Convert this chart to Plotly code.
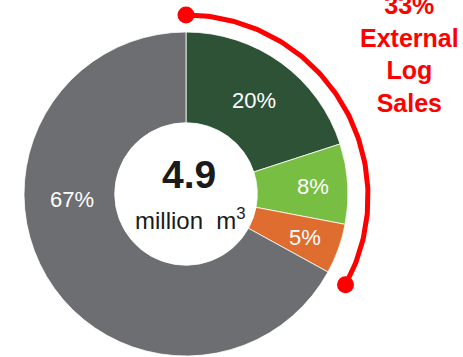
import plotly.graph_objects as go
import numpy as np

# ---- data ----
categories = ["External log sales A", "External log sales B", "External log sales C", "Other"]
shares = [20, 8, 5, 67]
colors = ["#2E5236", "#78BE43", "#DF6D2F", "#6D6E71"]
total_value = "4.9"
total_unit = "million&nbsp; m<sup>3</sup>"
highlight_share = 33
highlight_text = "External<br>Log<br>Sales"

W, H = 463, 357
FONT = "Liberation Sans, Arial, sans-serif"

# pie geometry (pixels)
cx, cy, r = 186, 194, 162

# label placement style: radius from centre (px) and optional angle override (deg)
label_radius = [116, 127, 127, 114]
label_angle_override = [None, None, None, 267]

fig = go.Figure()
fig.add_trace(go.Pie(
    labels=categories, values=shares, sort=False, direction="clockwise",
    rotation=0, hole=0.44,
    marker=dict(colors=colors, line=dict(color="white", width=0.8)),
    textinfo="none",
    hoverinfo="label+percent", showlegend=False,
    domain=dict(x=[(cx - r) / W, (cx + r) / W],
                y=[(H - cy - r) / H, (H - cy + r) / H]),
))

# highlight arc spanning the external share
acx, acy, R = 186, 197, 182
theta = np.radians(np.linspace(0, highlight_share / 100 * 360, 120))
ax_x = acx + R * np.sin(theta)
ax_y = acy - R * np.cos(theta)
fig.add_trace(go.Scatter(x=ax_x, y=ax_y, mode="lines",
                         line=dict(color="#FF0000", width=5),
                         hoverinfo="skip", showlegend=False))
fig.add_trace(go.Scatter(x=[ax_x[0], ax_x[-1]], y=[ax_y[0], ax_y[-1]], mode="markers",
                         marker=dict(color="#FF0000", size=17),
                         hoverinfo="skip", showlegend=False))

def px(x, y):
    return x / W, 1 - y / H

annots = []
# slice labels at slice mid-angles
tot = sum(shares)
cum = 0
for v, rad, ov in zip(shares, label_radius, label_angle_override):
    mid = (cum + v / 2) / tot * 360
    cum += v
    ang = np.radians(ov if ov is not None else mid)
    lx, ly = px(cx + rad * np.sin(ang), cy - rad * np.cos(ang))
    annots.append(dict(x=lx, y=ly, xref="paper", yref="paper", text=f"{v}%",
                       showarrow=False, font=dict(family=FONT, size=22, color="white"),
                       xanchor="center", yanchor="middle"))

x, y = px(189, 174)
annots.append(dict(x=x, y=y, xref="paper", yref="paper", text=f"<b>{total_value}</b>",
                   showarrow=False, font=dict(family=FONT, size=39, color="#1a1a1a"),
                   xanchor="center", yanchor="middle"))
x, y = px(190, 219)
annots.append(dict(x=x, y=y, xref="paper", yref="paper", text=total_unit,
                   showarrow=False, font=dict(family=FONT, size=24, color="#1a1a1a"),
                   xanchor="center", yanchor="middle"))
x, y = px(409, 54)
annots.append(dict(x=x, y=y, xref="paper", yref="paper",
                   text=f"<b>{highlight_share}%<br>{highlight_text}</b>",
                   showarrow=False, font=dict(family=FONT, size=25, color="#FF0000"),
                   xanchor="center", yanchor="middle", align="center"))

fig.update_layout(
    width=W, height=H, margin=dict(l=0, r=0, t=0, b=0),
    paper_bgcolor="white", plot_bgcolor="rgba(0,0,0,0)",
    xaxis=dict(range=[0, W], visible=False, fixedrange=True, domain=[0, 1]),
    yaxis=dict(range=[H, 0], visible=False, fixedrange=True, domain=[0, 1]),
    annotations=annots,
)
fig.write_html("out.html")
